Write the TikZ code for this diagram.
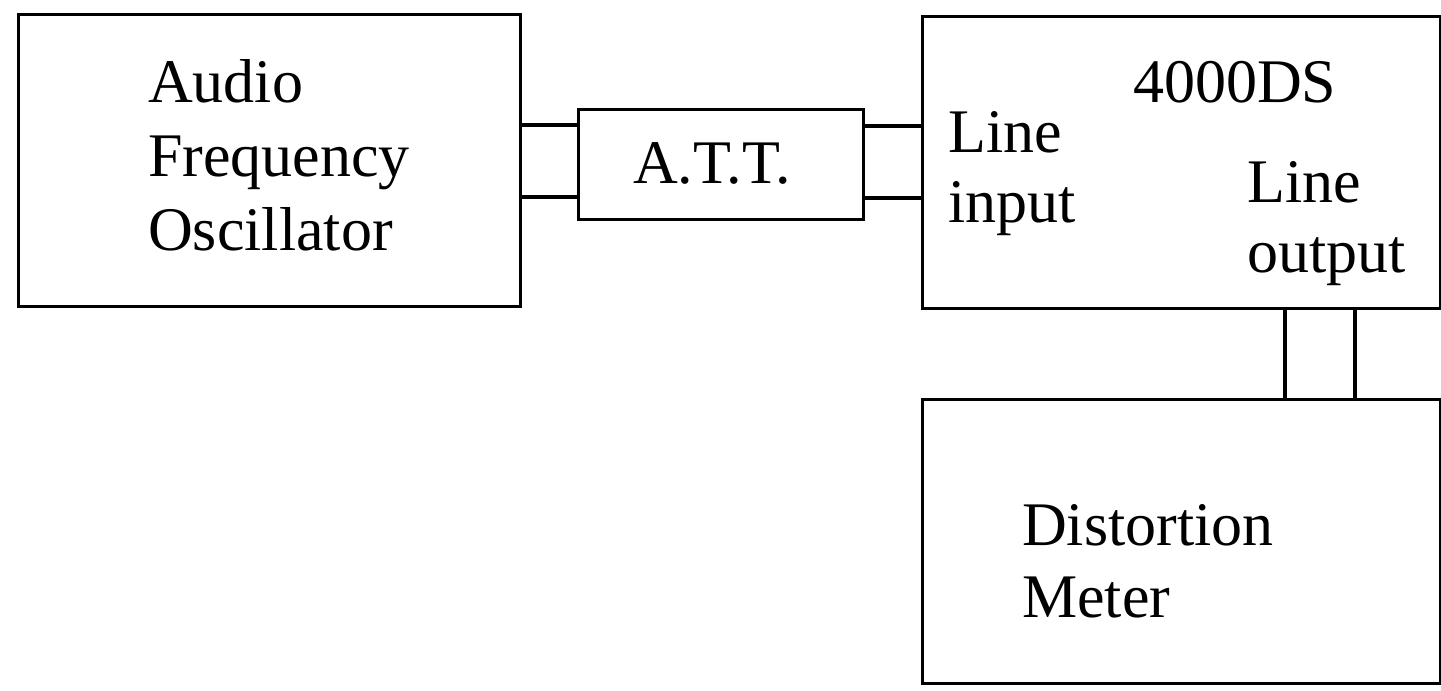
\documentclass[tikz,border=0pt]{standalone}
\usepackage{fontspec}
\setmainfont{Liberation Serif}
\begin{document}
\begin{tikzpicture}[x=1pt,y=-1pt,
  box/.style={draw, line width=3pt, rectangle, inner sep=0pt, anchor=north west},
  wire/.style={line width=3.2pt},
  lbl/.style={anchor=base west, inner sep=0pt, align=left, font=\fontsize{62}{74}\selectfont}]
\useasboundingbox (0,0) rectangle (1441,691);
% boxes
\node[box, minimum width=502pt, minimum height=292pt] (osc) at (17,13) {};
\node[box, minimum width=285pt, minimum height=110pt] (att) at (577,108) {};
\node[box, minimum width=518pt, minimum height=292pt] (ds) at (921,15) {};
\node[box, minimum width=518pt, minimum height=284pt] (dm) at (921,398) {};
% labels (anchor = baseline of the last line)
\node[lbl] (tosc) at (148,250) {Audio\\Frequency\\Oscillator};
\node[lbl] (tatt) at (633,183) {A.T.T.};
\node[lbl] (tds) at (1133,102) {4000DS};
\node[lbl, font=\fontsize{62}{70}\selectfont] (tin) at (948,222) {Line\\input};
\node[lbl, font=\fontsize{62}{70}\selectfont] (tout) at (1247,272) {Line\\output};
\node[lbl, font=\fontsize{62}{72}\selectfont] (tdm) at (1022,617) {Distortion\\Meter};
% wires
\draw[wire] (osc.east |- 0,125) -- (att.west |- 0,125);
\draw[wire] (osc.east |- 0,197) -- (att.west |- 0,197);
\draw[wire] (att.east |- 0,126) -- (ds.west |- 0,126);
\draw[wire] (att.east |- 0,198) -- (ds.west |- 0,198);
\draw[wire] (ds.south -| 1285,0) -- (dm.north -| 1285,0);
\draw[wire] (ds.south -| 1355,0) -- (dm.north -| 1355,0);
\end{tikzpicture}
\end{document}
